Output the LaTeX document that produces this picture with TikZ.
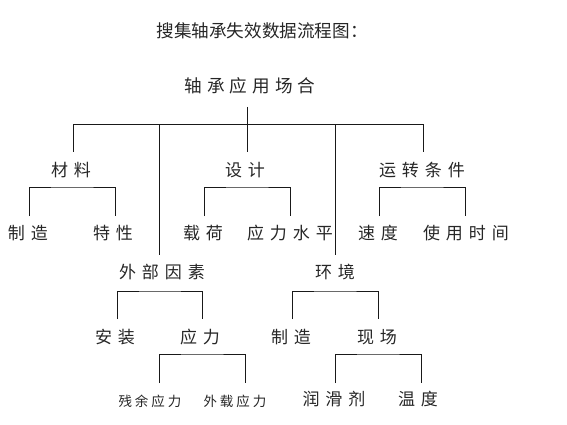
\documentclass[tikz,border=0pt]{standalone}
\usepackage{fontspec}
\newfontfamily\cjk{Noto Sans CJK SC}
\usetikzlibrary{calc}
\newcommand\G{\hspace{6pt}}
\newcommand\gS{\hspace{3pt}}
\newcommand\R{\hspace{5pt}}
\begin{document}
\begin{tikzpicture}[x=1pt,y=-1pt,
  txt/.style={inner sep=0pt, text=black!85},
  ttl/.style={txt, font=\cjk\fontsize{17.6}{17.6}\selectfont},
  lbl/.style={txt, font=\cjk\fontsize{17}{17}\selectfont},
  sml/.style={txt, font=\cjk\fontsize{13.5}{13.5}\selectfont},
  con/.style={draw=black!90, line width=0.8pt}]
\useasboundingbox (0,0) rectangle (567,425);
% title
\node[ttl] (title) at (262,31) {搜集轴承失效数据流程图：};
% root
\node[ttl] (root) at (250,86) {轴\R 承\R 应\R 用\R 场\R 合};
% level 1
\node[lbl] (mat) at (71,170) {材\G 料};
\node[lbl] (des) at (245,170) {设\G 计};
\node[lbl] (run) at (422,170) {运\G 转\G 条\G 件};
\node[lbl] (ext) at (162,272) {外\G 部\G 因\G 素};
\node[lbl] (env) at (335,272) {环\G 境};
% level 2
\node[lbl] (mfg1) at (28,233) {制\G 造};
\node[lbl] (prop) at (113,233) {特\G 性};
\node[lbl] (load) at (203,233) {载\G 荷};
\node[lbl] (slev) at (290,233) {应\G 力\G 水\G 平};
\node[lbl] (spd) at (378,233) {速\G 度};
\node[lbl] (time) at (466,233) {使\G 用\G 时\G 间};
\node[lbl] (inst) at (115,337) {安\G 装};
\node[lbl] (strs) at (200,337) {应\G 力};
\node[lbl] (mfg2) at (291,337) {制\G 造};
\node[lbl] (site) at (377,337) {现\G 场};
% level 3
\node[sml] (resid) at (150,401) {残\gS 余\gS 应\gS 力};
\node[sml] (extl) at (235,401) {外\gS 载\gS 应\gS 力};
\node[lbl] (lub) at (334,399) {润\G 滑\G 剂};
\node[lbl] (temp) at (418,399) {温\G 度};

% root bus
\coordinate (rootb) at (247,107);
\coordinate (busm) at (247,124);
\coordinate (mat-t) at (73,152);
\coordinate (des-t) at (247,152);
\coordinate (run-t) at (423,152);
\coordinate (ext-t) at (159,255);
\coordinate (env-t) at (335,255);
\draw[con] (rootb) -- (des-t);
\draw[con] (busm) -| (mat-t);
\draw[con] (busm) -| (run-t);
\draw[con] (busm) -| (ext-t);
\draw[con] (busm) -| (env-t);

% brackets
\coordinate (mat-b) at (72,187);
\coordinate (mfg1-t) at (29,216);
\coordinate (prop-t) at (115,216);
\draw[con] (mfg1-t) |- (mat-b) -| (prop-t);

\coordinate (des-b) at (247,187);
\coordinate (load-t) at (204,216);
\coordinate (slev-t) at (290,216);
\draw[con] (load-t) |- (des-b) -| (slev-t);

\coordinate (run-b) at (422,187);
\coordinate (spd-t) at (379,216);
\coordinate (time-t) at (465,216);
\draw[con] (spd-t) |- (run-b) -| (time-t);

\coordinate (ext-b) at (160,291);
\coordinate (inst-t) at (117,319);
\coordinate (strs-t) at (202,319);
\draw[con] (inst-t) |- (ext-b) -| (strs-t);

\coordinate (env-b) at (335,291);
\coordinate (mfg2-t) at (292,319);
\coordinate (site-t) at (378,319);
\draw[con] (mfg2-t) |- (env-b) -| (site-t);

\coordinate (strs-b) at (202,354);
\coordinate (resid-t) at (159,383);
\coordinate (extl-t) at (245,383);
\draw[con] (resid-t) |- (strs-b) -| (extl-t);

\coordinate (site-b) at (378,354);
\coordinate (lub-t) at (335,383);
\coordinate (temp-t) at (421,383);
\draw[con] (lub-t) |- (site-b) -| (temp-t);
\end{tikzpicture}
\end{document}
